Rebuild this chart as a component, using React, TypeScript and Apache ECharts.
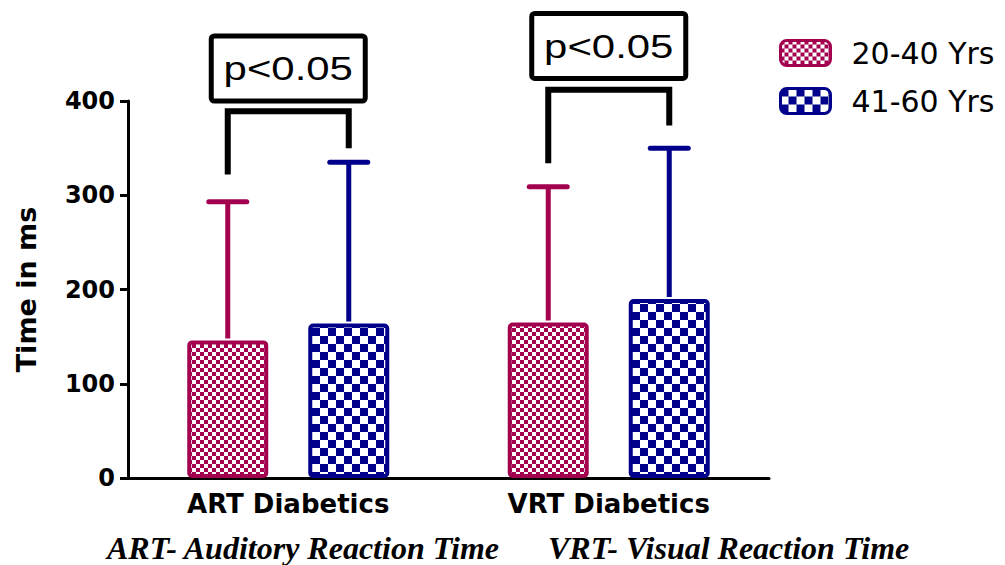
import React, { useEffect, useRef } from 'react';
import * as echarts from 'echarts';

const categories = ['ART Diabetics', 'VRT Diabetics'];
const seriesNames = ['20-40 Yrs', '41-60 Yrs'];
const means2040 = [146, 165];
const sd2040 = [147, 144];
const means4160 = [164, 190];
const sd4160 = [171, 160];
const yTicks = [0, 100, 200, 300, 400];
const pLabels = ['p<0.05', 'p<0.05'];
const bracketLineY = [389, 412];
const bracketLeftEnd = [322, 334];
const bracketRightEnd = [350, 374];
const boxBase = [400, 424];
const footnotes = ['ART- Auditory Reaction Time', 'VRT- Visual Reaction Time'];

const MAG = '#A3004F';
const NAVY = '#00008B';
const BAR_W = 81;
const BORDER = 4;
const GAP = 40;
const OFFSET = (BAR_W + GAP) / 2;

function makeChecker(color: string, size: number) {
  const c = document.createElement('canvas');
  c.width = size * 2;
  c.height = size * 2;
  const ctx = c.getContext('2d')!;
  ctx.fillStyle = '#ffffff';
  ctx.fillRect(0, 0, size * 2, size * 2);
  ctx.fillStyle = color;
  ctx.fillRect(0, 0, size, size);
  ctx.fillRect(size, size, size, size);
  return c;
}

function errorSeries(name: string, means: number[], sds: number[], color: string, dir: number) {
  return {
    name,
    type: 'custom',
    clip: false,
    z: 3,
    data: means.map((m, i) => [i, m, m + sds[i]]),
    renderItem: (params: any, api: any) => {
      const cat = api.value(0);
      const base = api.coord([cat, api.value(1)]);
      const top = api.coord([cat, api.value(2)]);
      const x = base[0] + dir * OFFSET;
      return {
        type: 'group',
        children: [
          {
            type: 'line',
            shape: { x1: x, y1: base[1] - BORDER / 2, x2: x, y2: top[1] },
            style: { stroke: color, lineWidth: 5 },
          },
          {
            type: 'line',
            shape: { x1: x - 19, y1: top[1], x2: x + 19, y2: top[1] },
            style: { stroke: color, lineWidth: 5, lineCap: 'round' },
          },
        ],
      };
    },
  };
}

export default function App() {
  const ref = useRef<HTMLDivElement>(null);
  useEffect(() => {
    if (!ref.current) return;
    const chart = echarts.init(ref.current, null, { renderer: 'svg' });
    const magPattern = makeChecker(MAG, 4);
    const navyPattern = makeChecker(NAVY, 8);
    const footFont = 'italic bold 32px "Liberation Serif", "Times New Roman", serif';
    const option: any = {
      animation: false,
      backgroundColor: '#ffffff',
      grid: { left: 128, top: 101, width: 641, height: 377, containLabel: false },
      legend: {
        orient: 'vertical',
        left: 774,
        top: 33,
        itemWidth: 50,
        itemHeight: 25,
        itemGap: 18,
        selectedMode: false,
        data: seriesNames,
        icon: 'roundRect',
        itemStyle: { borderWidth: 3 },
        textStyle: {
          fontSize: 30,
          fontFamily: 'DejaVu Sans',
          color: '#000',
          padding: [0, 0, 0, 16],
        },
      },
      xAxis: {
        type: 'category',
        data: categories,
        axisLine: { lineStyle: { color: '#000', width: 3 } },
        axisTick: { alignWithLabel: true, length: 8, lineStyle: { color: '#000', width: 3 } },
        axisLabel: {
          fontSize: 26,
          fontWeight: 'bold',
          fontFamily: 'DejaVu Sans',
          color: '#000',
          margin: 13,
        },
        splitLine: { show: false },
      },
      yAxis: {
        type: 'value',
        min: yTicks[0],
        max: yTicks[yTicks.length - 1],
        interval: yTicks[1] - yTicks[0],
        name: 'Time in ms',
        nameLocation: 'middle',
        nameGap: 88,
        nameTextStyle: {
          fontSize: 27,
          fontWeight: 'bold',
          fontFamily: 'DejaVu Sans',
          color: '#000',
        },
        axisLine: { show: true, lineStyle: { color: '#000', width: 3 } },
        axisTick: { show: true, length: 8, lineStyle: { color: '#000', width: 3 } },
        axisLabel: {
          fontSize: 24,
          fontWeight: 'bold',
          fontFamily: 'DejaVu Sans',
          color: '#000',
          margin: 13,
        },
        splitLine: { show: false },
      },
      graphic: [
        {
          type: 'text',
          left: 107,
          top: 532,
          style: { text: footnotes[0], font: footFont, fill: '#000' },
        },
        {
          type: 'text',
          left: 548,
          top: 532,
          style: { text: footnotes[1], font: footFont, fill: '#000' },
        },
      ],
      series: [
        {
          name: seriesNames[0],
          type: 'bar',
          data: means2040,
          barWidth: BAR_W,
          barGap: ((GAP / BAR_W) * 100).toFixed(1) + '%',
          z: 2,
          itemStyle: {
            color: { image: magPattern, repeat: 'repeat', imageWidth: 8, imageHeight: 8 },
            borderColor: MAG,
            borderWidth: BORDER,
            borderRadius: 3,
          },
        },
        {
          name: seriesNames[1],
          type: 'bar',
          data: means4160,
          barWidth: BAR_W,
          z: 2,
          itemStyle: {
            color: { image: navyPattern, repeat: 'repeat', imageWidth: 16, imageHeight: 16 },
            borderColor: NAVY,
            borderWidth: BORDER,
            borderRadius: 3,
          },
        },
        errorSeries('err-2040', means2040, sd2040, MAG, -1),
        errorSeries('err-4160', means4160, sd4160, NAVY, 1),
        {
          name: 'brackets',
          type: 'custom',
          clip: false,
          z: 4,
          data: categories.map((_, i) => [i, bracketLineY[i], bracketLeftEnd[i], bracketRightEnd[i], boxBase[i]]),
          renderItem: (params: any, api: any) => {
            const i = api.value(0);
            const line = api.coord([i, api.value(1)]);
            const cx = line[0];
            const lx = cx - OFFSET;
            const rx = cx + OFFSET;
            const ly = api.coord([i, api.value(2)])[1];
            const ry = api.coord([i, api.value(3)])[1];
            const by = api.coord([i, api.value(4)])[1];
            return {
              type: 'group',
              children: [
                {
                  type: 'polyline',
                  shape: { points: [[lx, ly], [lx, line[1]], [rx, line[1]], [rx, ry]] },
                  style: { stroke: '#000', lineWidth: 6, fill: 'none', lineJoin: 'miter' },
                },
                {
                  type: 'rect',
                  shape: { x: cx - 77, y: by - 65, width: 154, height: 65, r: 3 },
                  style: { fill: '#fff', stroke: '#000', lineWidth: 5 },
                },
                {
                  type: 'text',
                  x: cx,
                  y: by - 32,
                  scaleX: 1.27,
                  style: {
                    text: pLabels[i],
                    fontSize: 33,
                    fontFamily: '"Liberation Sans", Arial, sans-serif',
                    fill: '#000',
                    align: 'center',
                    verticalAlign: 'middle',
                  },
                },
              ],
            };
          },
        },
      ],
    };
    chart.setOption(option);
    return () => chart.dispose();
  }, []);
  return (
    <div
      ref={ref}
      style={{ position: 'fixed', left: 0, top: 0, width: 1005, height: 565, background: '#fff' }}
    />
  );
}
